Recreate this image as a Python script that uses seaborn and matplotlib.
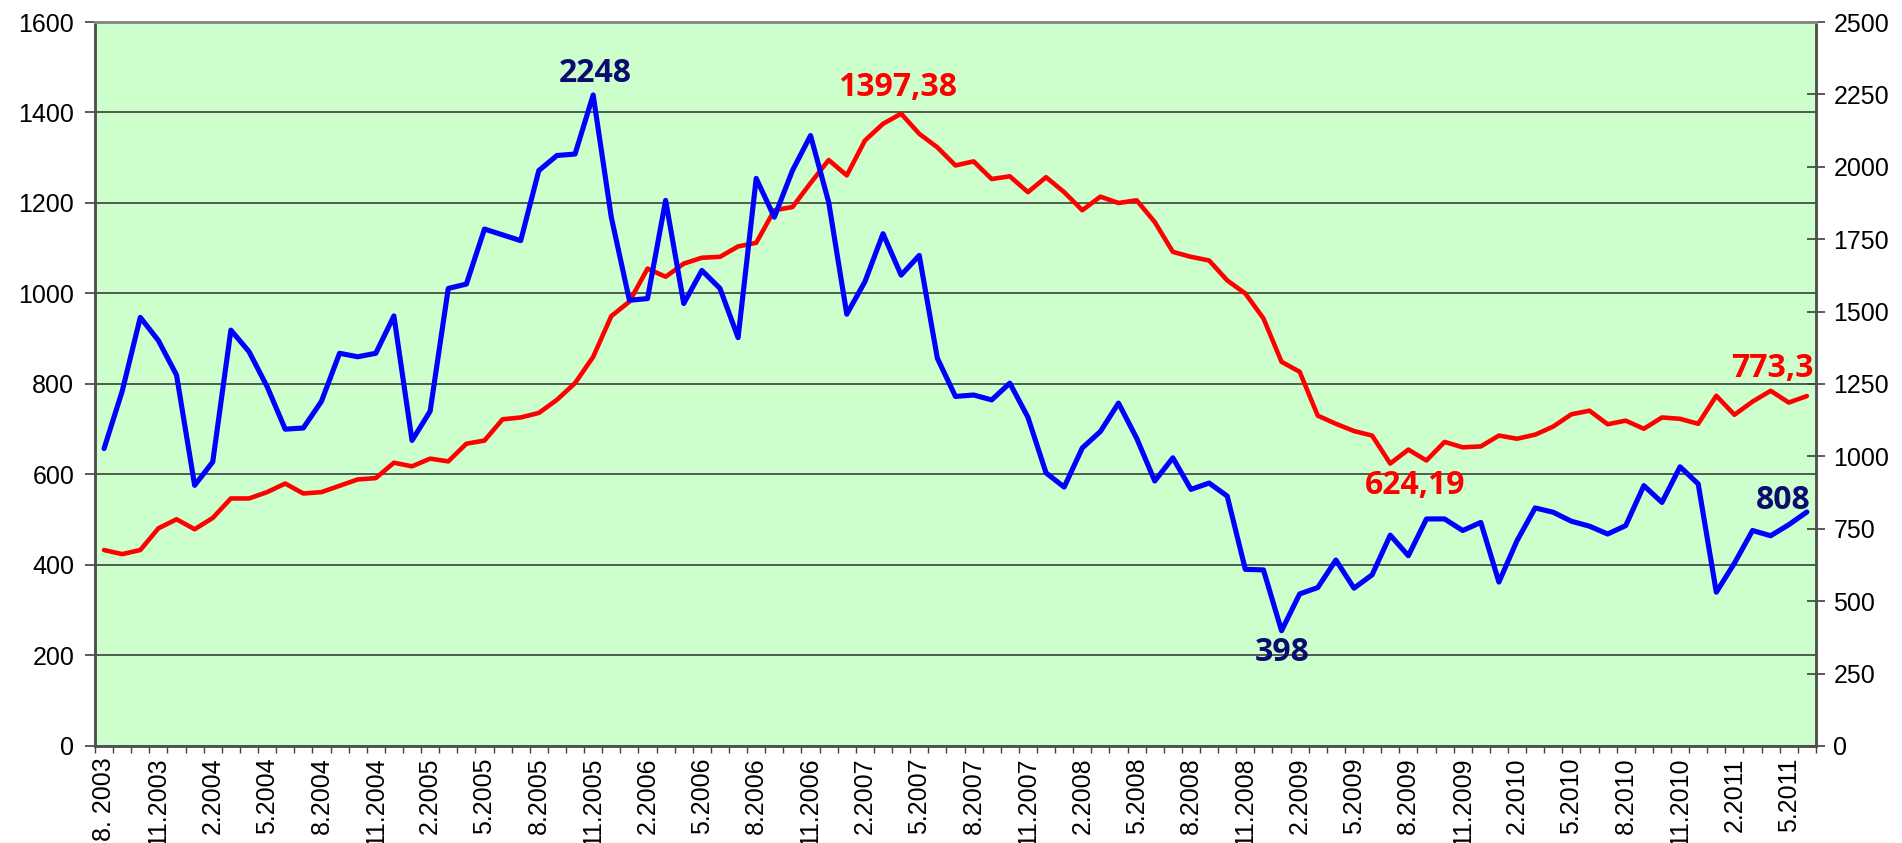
import numpy as np
import pandas as pd
import seaborn as sns
import matplotlib
matplotlib.use('Agg')
from matplotlib import pyplot as plt

# monthly values, 8.2003 .. 6.2011
red_index = [433, 424, 433, 481, 501, 479, 504, 547, 547, 561,
             580, 558, 561, 575, 589, 592, 626, 618, 635, 629,
             668, 675, 722, 726, 736, 765, 802, 860, 950, 982,
             1055, 1037, 1066, 1079, 1081, 1104, 1112, 1184, 1191, 1244,
             1295, 1261, 1338, 1375, 1397.38, 1353, 1323, 1283, 1292, 1253,
             1259, 1224, 1257, 1224, 1184, 1214, 1200, 1206, 1158, 1092,
             1081, 1073, 1029, 1000, 945, 849, 827, 730, 712, 696,
             686, 624.19, 655, 631, 672, 660, 662, 686, 679, 688,
             706, 733, 741, 711, 719, 701, 726, 723, 712, 774,
             732, 761, 785, 759, 773.3]

blue_index = [1027, 1225, 1480, 1400, 1281, 900, 981, 1436, 1362, 1241,
              1094, 1098, 1190, 1356, 1344, 1356, 1485, 1055, 1156, 1580,
              1595, 1785, 1765, 1745, 1987, 2039, 2044, 2248, 1826, 1539,
              1545, 1884, 1528, 1642, 1580, 1410, 1960, 1826, 1987, 2108,
              1878, 1491, 1603, 1769, 1626, 1694, 1339, 1207, 1212, 1195,
              1253, 1135, 943, 894, 1029, 1086, 1184, 1063, 915, 995,
              886, 908, 863, 610, 608, 398, 525, 547, 642, 545,
              591, 728, 657, 784, 784, 744, 772, 566, 709, 822,
              807, 776, 759, 732, 761, 899, 841, 964, 905, 531,
              631, 744, 726, 764, 808]

tick_labels = ['8. 2003', '11.2003', '2.2004', '5.2004', '8.2004', '11.2004',
               '2.2005', '5.2005', '8.2005', '11.2005', '2.2006', '5.2006',
               '8.2006', '11.2006', '2.2007', '5.2007', '8.2007', '11.2007',
               '2.2008', '5.2008', '8.2008', '11.2008', '2.2009', '5.2009',
               '8.2009', '11.2009', '2.2010', '5.2010', '8.2010', '11.2010',
               '2.2011', '5.2011']

plt.rcParams['font.family'] = ['Liberation Sans', 'DejaVu Sans']

n = len(red_index)
df = pd.DataFrame({'month': np.arange(n), 'red': red_index, 'blue': blue_index})

fig = plt.figure(figsize=(19.02, 8.43), dpi=100)
ax = fig.add_axes([0.04995, 0.1151, 0.9048, 0.8588])
ax.set_facecolor('#ccffcc')
ax2 = ax.twinx()

sns.lineplot(data=df, x='month', y='red', ax=ax, color='#ff0000', linewidth=3.3, legend=False)
sns.lineplot(data=df, x='month', y='blue', ax=ax2, color='#0000ff', linewidth=3.7, legend=False)
for a in (ax, ax2):
    for ln in a.get_lines():
        ln.set_solid_joinstyle('round')
        ln.set_solid_capstyle('round')

ax.set_xlim(-0.5, n - 0.5)
ax.set_ylim(0, 1600)
ax2.set_ylim(0, 2500)
ax.set_yticks(range(0, 1601, 200))
ax2.set_yticks(range(0, 2501, 250))
ax.set_xlabel('')
ax.set_ylabel('')
ax2.set_ylabel('')

# month boundaries get tick marks, every third month gets a label
ax.set_xticks(np.arange(n + 1) - 0.5)
ax.set_xticklabels([])
ax.set_xticks(np.arange(0, n, 3)[:len(tick_labels)], labels=tick_labels, minor=True)
ax.tick_params(axis='x', which='major', direction='out', length=5, width=1, color='#404040')
ax.tick_params(axis='x', which='minor', length=0, pad=8, labelsize=18, labelrotation=90)
for t in ax.get_xticklabels(minor=True):
    t.set_va('top')
    t.set_ha('center')

ax.tick_params(axis='y', direction='out', length=7, width=1.2, color='#404040', pad=8, labelsize=18)
ax2.tick_params(axis='y', direction='inout', length=13, width=1.2, color='#404040', pad=6, labelsize=18)

ax.yaxis.grid(True, color='#303030', linewidth=1.1)
ax.xaxis.grid(False)

for a in (ax, ax2):
    for side in ('left', 'right', 'bottom'):
        a.spines[side].set_color('#505050')
        a.spines[side].set_linewidth(1.8)
    a.spines['top'].set_color('#8a8a8a')
    a.spines['top'].set_linewidth(2)

label_font = dict(family=['Open Sans', 'DejaVu Sans'], fontweight='bold', fontsize=23,
                  ha='center', va='center', textcoords='offset pixels')
navy = '#0b0b70'

i = int(np.argmax(blue_index))
ax2.annotate('2248', xy=(i, blue_index[i]), xytext=(2, 21), color=navy, **label_font)
i = int(np.argmin(blue_index))
ax2.annotate('398', xy=(i, blue_index[i]), xytext=(1, -22), color=navy, **label_font)
ax2.annotate('808', xy=(n - 1, blue_index[-1]), xytext=(-24, 11), color=navy, **label_font)

i = int(np.argmax(red_index))
ax.annotate('1397,38', xy=(i, red_index[i]), xytext=(-4, 26), color='#ff0000', **label_font)
i = int(np.argmin(red_index[50:])) + 50
ax.annotate('624,19', xy=(i, red_index[i]), xytext=(25, -22), color='#ff0000', **label_font)
ax.annotate('773,3', xy=(n - 1, red_index[-1]), xytext=(-35, 28), color='#ff0000', **label_font)

fig.savefig('out.png', dpi=100)
